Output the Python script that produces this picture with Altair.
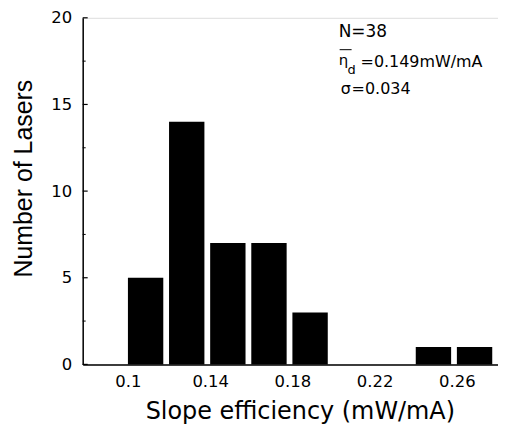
import altair as alt
import pandas as pd

# Histogram data (bin start, bin end, count)
bin_start = [0.10, 0.12, 0.14, 0.16, 0.18, 0.24, 0.26]
bin_end = [0.12, 0.14, 0.16, 0.18, 0.20, 0.26, 0.28]
counts = [5, 14, 7, 7, 3, 1, 1]

x_ticks = [0.10, 0.14, 0.18, 0.22, 0.26]
y_ticks = [0, 5, 10, 15, 20]
y_minor = [2.5, 7.5, 12.5, 17.5]

FONT = "DejaVu Sans"
FONT_Y = "Liberation Sans"
W, H = 417, 348
XDOM = [0.078, 0.28]
YDOM = [0, 20]

df = pd.DataFrame({"start": bin_start, "end": bin_end, "count": counts})

xscale = alt.Scale(domain=XDOM, nice=False, zero=False)
yscale = alt.Scale(domain=YDOM, nice=False)

bars = alt.Chart(df).transform_calculate(
    end2="datum.end - 0.0028"
).mark_rect(color="black").encode(
    x=alt.X("start:Q", scale=xscale,
            axis=alt.Axis(values=x_ticks, format=".2~f", title="Slope efficiency (mW/mA)",
                          tickSize=0, labelPadding=9, labelFontSize=16.5, labelFont=FONT,
                          labelColor="black", domainColor="black", domainWidth=1.5,
                          grid=False, titleFont=FONT, titleFontSize=24, titleFontWeight="normal",
                          titleColor="black", titleX=218, titleY=47, titleBaseline="middle",
                          titleAnchor="start", titleAlign="center")),
    x2="end2:Q",
    y=alt.Y("count:Q", scale=yscale,
            axis=alt.Axis(values=y_ticks, title="Number of Lasers", tickSize=0,
                          labelPadding=11, labelFontSize=16.5, labelFont=FONT,
                          labelColor="black", domainColor="black", domainWidth=1.5,
                          grid=False, titleFont=FONT_Y, titleFontSize=25, titleFontWeight="normal",
                          titleColor="black", titleX=-59, titleY=161, titleAngle=-90,
                          titleAlign="center", titleBaseline="middle")),
    y2=alt.datum(0),
)

major = alt.Chart(pd.DataFrame({"v": y_ticks})).mark_rule(color="black", strokeWidth=1.2).encode(
    x=alt.value(0), x2=alt.value(5), y=alt.Y("v:Q", scale=yscale)
)
minor = alt.Chart(pd.DataFrame({"v": y_minor})).mark_rule(color="black", strokeWidth=1).encode(
    x=alt.value(0), x2=alt.value(3), y=alt.Y("v:Q", scale=yscale)
)

def txt(s, x, y, size):
    return alt.Chart(pd.DataFrame({"t": [s]})).mark_text(
        font=FONT, fontSize=size, color="black", align="left", baseline="alphabetic"
    ).encode(text="t:N", x=alt.value(x), y=alt.value(y))

ann = [
    txt("N=38", 257, 19, 17),
    txt("η", 257, 47, 15),
    txt("d", 266, 56, 13),
    txt("=0.149mW/mA", 279, 49, 16),
    txt("σ", 259, 77, 16),
    txt("=0.034", 270, 77, 16),
]
overline = alt.Chart(pd.DataFrame({"a": [0]})).mark_rule(color="black", strokeWidth=1).encode(
    x=alt.value(258), x2=alt.value(270), y=alt.value(32)
)

chart = alt.layer(bars, major, minor, overline, *ann).properties(
    width=W, height=H,
    autosize=alt.AutoSizeParams(type="none"),
    padding={"left": 75, "top": 9, "right": 0, "bottom": 59},
).configure_view(stroke="black", strokeWidth=1.5).configure(background="white")

chart.save("out.html", embed_options={"renderer": "svg", "actions": False})
